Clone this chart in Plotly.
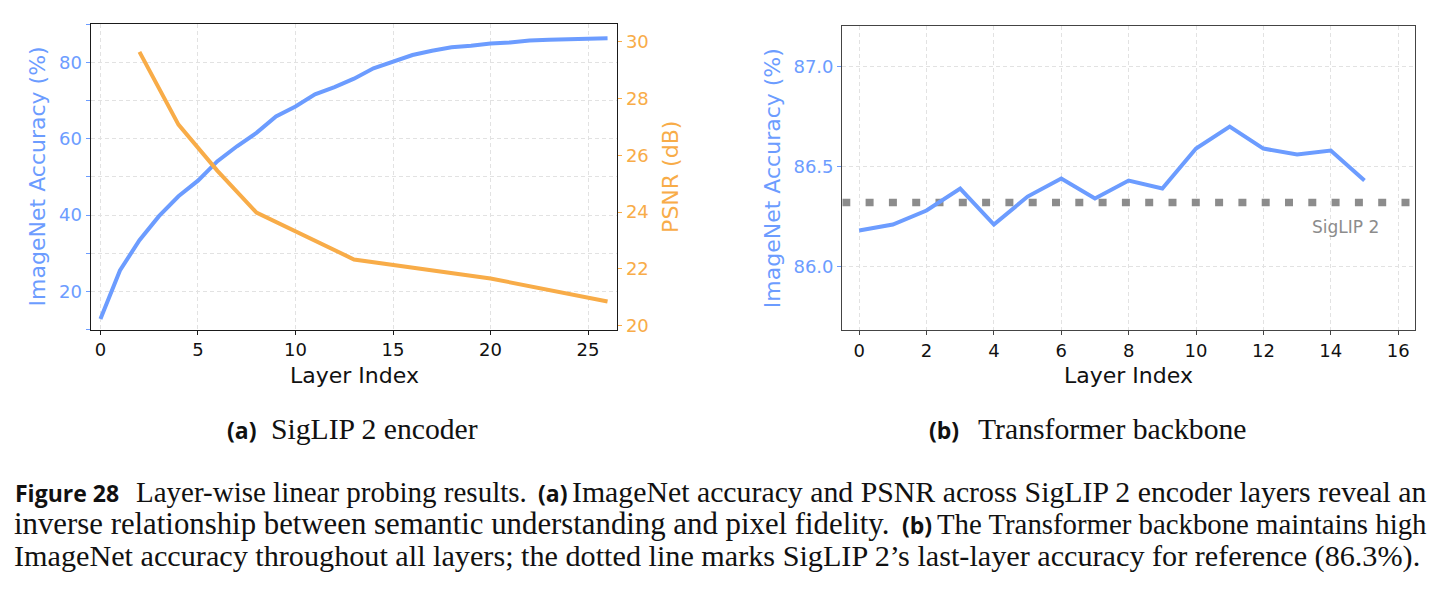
import plotly.graph_objects as go

# ---------------- data ----------------
layers_a = list(range(27))
acc_a = [12.8, 25.5, 33.4, 39.7, 44.9, 49.0, 54.1, 58.0, 61.5, 65.8, 68.4, 71.6, 73.5,
         75.7, 78.4, 80.2, 81.9, 83.0, 83.9, 84.3, 84.9, 85.2, 85.7, 85.9, 86.1, 86.3, 86.3]
psnr_layers = [2, 4, 6, 8, 13, 20, 26]
psnr_db = [29.64, 27.08, 25.45, 23.98, 22.33, 21.66, 20.85]

layers_b = list(range(16))
acc_b = [86.18, 86.21, 86.28, 86.39, 86.21, 86.35, 86.44, 86.34, 86.43, 86.39,
         86.59, 86.70, 86.59, 86.56, 86.58, 86.43]
siglip_ref = 86.32

xticks_a = [0, 5, 10, 15, 20, 25]
yticks_a = [10, 20, 30, 40, 50, 60, 70, 80, 90]
yticklabels_a = ["", "20", "", "40", "", "60", "", "80", ""]
yticks_psnr = [20, 22, 24, 26, 28, 30]
xticks_b = [0, 2, 4, 6, 8, 10, 12, 14, 16]
yticks_b = [86.0, 86.5, 87.0]

# axis limits
xlim_a = [-0.5, 26.5]
ylim_a = [10, 90]
ylim_psnr = [19.86, 30.62]
xlim_b = [-0.5, 16.5]
ylim_b = [85.683, 87.201]

# ---------------- style ----------------
W, H = 1442, 588   # drawing area (page is 594 tall; nothing is drawn in the last rows)
BLUE = "#6C9CFF"
ORANGE = "#F8AC48"
GRAY = "#8C8C8C"
GRID = "#E2E2E2"
INK = "#111111"
SANS = "DejaVu Sans"
SERIF = "Liberation Serif"
BOLD = "Open Sans"


def px(x):
    return x / W


def py(y):
    return 1 - y / H


fig = go.Figure()
fig.add_trace(go.Scatter(x=layers_a, y=acc_a, mode="lines",
                         line=dict(color=BLUE, width=4), xaxis="x", yaxis="y"))
fig.add_trace(go.Scatter(x=psnr_layers, y=psnr_db, mode="lines",
                         line=dict(color=ORANGE, width=4), xaxis="x", yaxis="y2"))
# SigLIP 2 reference: dotted horizontal line spanning the whole axis
fig.add_trace(go.Scatter(x=xlim_b, y=[siglip_ref, siglip_ref], mode="lines",
                         line=dict(color=GRAY, width=7.5, dash="8px,15.3px"),
                         xaxis="x2", yaxis="y3", hoverinfo="skip"))
fig.add_trace(go.Scatter(x=layers_b, y=acc_b, mode="lines",
                         line=dict(color=BLUE, width=4), xaxis="x2", yaxis="y3"))

common_x = dict(showline=True, mirror=True, linewidth=1.3, ticks="outside", ticklen=4,
                showgrid=True, gridcolor=GRID, griddash="4px,3px", gridwidth=1,
                zeroline=False, tickfont=dict(family=SANS, size=18, color=INK))

fig.update_layout(
    width=W, height=H,
    margin=dict(l=0, r=0, t=0, b=0),
    paper_bgcolor="white", plot_bgcolor="white",
    showlegend=False,
    xaxis=dict(domain=[px(90.7), px(617.3)], range=xlim_a, tickmode="array",
               tickvals=xticks_a, anchor="y", linecolor="#1A1A1A", tickcolor="#1A1A1A",
               **common_x),
    yaxis=dict(domain=[py(333), py(24.3)], range=ylim_a, tickmode="array",
               tickvals=yticks_a, ticktext=yticklabels_a, anchor="x",
               showline=True, mirror=True, linecolor="#1A1A1A", linewidth=1.3,
               ticks="outside", ticklen=4, tickcolor=BLUE,
               showgrid=True, gridcolor=GRID, griddash="4px,3px", gridwidth=1,
               zeroline=False, tickfont=dict(family=SANS, size=18, color=BLUE)),
    yaxis2=dict(overlaying="y", side="right", anchor="x", range=ylim_psnr,
                tickmode="array", tickvals=yticks_psnr, ticks="outside", ticklen=4,
                tickcolor=ORANGE, showgrid=False, showline=False, zeroline=False,
                tickfont=dict(family=SANS, size=18, color=ORANGE)),
    xaxis2=dict(domain=[px(842.3), px(1415)], range=xlim_b, tickmode="array",
                tickvals=xticks_b, anchor="y3", linecolor="#444444", tickcolor="#444444",
                **common_x),
    yaxis3=dict(domain=[py(333.3), py(26.7)], range=ylim_b, tickmode="array",
                tickvals=yticks_b, tickformat=".1f", anchor="x2",
                showline=True, mirror=True, linecolor="#444444", linewidth=1.3,
                ticks="outside", ticklen=4, tickcolor=BLUE,
                showgrid=True, gridcolor=GRID, griddash="4px,3px", gridwidth=1,
                zeroline=False, tickfont=dict(family=SANS, size=18, color=BLUE)),
)

fig.add_annotation(x=14.45, y=86.2, xref="x2", yref="y3", text="SigLIP 2",
                   showarrow=False, font=dict(family=SANS, size=17, color=GRAY))


def ann(x, y, text, size, color, family=SANS, angle=0, xanchor="center", weight="normal"):
    fig.add_annotation(x=px(x), y=py(y), xref="paper", yref="paper", text=text,
                       showarrow=False, textangle=angle, xanchor=xanchor, yanchor="middle",
                       font=dict(family=family, size=size, color=color, weight=weight))


# axis titles
ann(37.5, 178.7, "ImageNet Accuracy (%)", 22, BLUE, angle=-90)
ann(671, 178.7, "PSNR (dB)", 22, ORANGE, angle=-90)
ann(354, 379, "Layer Index", 22, INK)
ann(772, 180, "ImageNet Accuracy (%)", 22, BLUE, angle=-90)
ann(1128.6, 379, "Layer Index", 22, INK)


# caption text segments placed on shared baselines
def serif_seg(x, base, text, size, anchor="left"):
    x = x - 3 if anchor == "left" else x + 3
    ann(x, base - 0.3375 * size, text, size, INK, family=SERIF, xanchor=anchor)


def bold_seg(x, base, text, size=23):
    ann(x - 3, base - 0.388 * size, text, size, INK, family=BOLD, xanchor="left", weight="bold")


# sub-captions
bold_seg(228.2, 443.5, "(a)")
serif_seg(272.3, 443.5, "SigLIP 2 encoder", 29.7)
bold_seg(930.0, 443.5, "(b)")
serif_seg(978.5, 443.5, "Transformer backbone", 29.7)

# figure caption
bold_seg(16.0, 507, "Figure 28")
serif_seg(136.7, 507, "Layer-wise linear probing results.", 29.0)
bold_seg(539.3, 507, "(a)")
serif_seg(1426, 507, "ImageNet accuracy and PSNR across SigLIP 2 encoder layers reveal an",
          29.8, anchor="right")

serif_seg(15, 539.5, "inverse relationship between semantic understanding and pixel fidelity.", 30.8)
bold_seg(902.7, 539.5, "(b)")
serif_seg(1426, 539.5, "The Transformer backbone maintains high", 28.8, anchor="right")

serif_seg(15, 572, "ImageNet accuracy throughout all layers; the dotted line marks SigLIP 2\u2019s "
          "last-layer accuracy for reference (86.3%).", 30.2)

post = (
    "var gd = document.getElementById('{plot_id}');"
    "document.documentElement.style.margin = '0';"
    "document.body.style.margin = '0';"
    "gd.style.overflow = 'hidden';"
    "if (gd.parentElement) gd.parentElement.style.overflow = 'hidden';"
    "if (gd.parentElement) gd.parentElement.style.height = '588px';"
)
fig.write_html("out.html", post_script=post)
